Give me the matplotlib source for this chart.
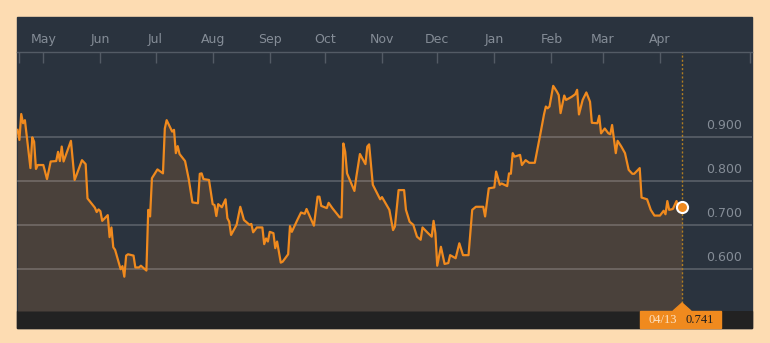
import pandas as pd
import matplotlib
matplotlib.use('Agg')
import matplotlib.pyplot as plt
import matplotlib.dates as mdates
import matplotlib.transforms as mtransforms
from matplotlib.patches import Rectangle, Polygon

START = pd.Timestamp('2018-05-01')

day_offset = [
    -14, -13, -12, -11, -10, -7, -6, -5, -4, -3, 0, 2, 4, 7, 8, 9, 10, 11, 15, 17,
    18, 21, 23, 24, 28, 29, 30, 31, 32, 35, 36, 37, 38, 39, 42, 43, 44, 45, 46, 49,
    50, 52, 53, 56, 57, 58, 59, 62, 65, 66, 67, 70, 71, 72, 73, 74, 77, 79, 81, 84,
    85, 86, 87, 90, 92, 93, 94, 95, 97, 99, 100, 101, 102, 105, 107, 109, 112, 113, 114, 116,
    119, 120, 121, 122, 123, 125, 126, 127, 129, 130, 133, 134, 135, 138, 140, 142, 143, 147, 149, 150,
    151, 154, 155, 157, 161, 162, 163, 164, 165, 169, 170, 172, 175, 176, 177, 179, 183, 184, 188, 190,
    191, 193, 196, 197, 199, 201, 203, 205, 206, 209, 211, 212, 213, 214, 216, 218, 220, 221, 224, 226,
    228, 231, 233, 235, 239, 240, 242, 245, 246, 248, 249, 252, 253, 254, 255, 256, 259, 260, 262, 264,
    267, 270, 272, 273, 274, 275, 277, 279, 280, 281, 283, 284, 287, 289, 290, 291, 293, 295, 297, 298,
    301, 302, 303, 305, 307, 308, 309, 311, 312, 314, 316, 318, 320, 321, 324, 325, 328, 330, 332, 335,
    337, 338, 339, 340, 342, 344, 345, 347,
]
price = [
    0.917, 0.894, 0.953, 0.932, 0.939, 0.830, 0.900, 0.890, 0.828, 0.837, 0.837, 0.805, 0.845, 0.846, 0.867, 0.846, 0.879, 0.845, 0.892, 0.803,
    0.814, 0.848, 0.839, 0.761, 0.740, 0.730, 0.736, 0.732, 0.710, 0.723, 0.673, 0.695, 0.650, 0.644, 0.600, 0.607, 0.583, 0.631, 0.634, 0.631,
    0.604, 0.604, 0.608, 0.597, 0.735, 0.720, 0.807, 0.827, 0.818, 0.920, 0.939, 0.913, 0.917, 0.864, 0.880, 0.862, 0.846, 0.805, 0.752, 0.750,
    0.817, 0.818, 0.805, 0.803, 0.748, 0.746, 0.721, 0.748, 0.741, 0.759, 0.716, 0.708, 0.678, 0.701, 0.742, 0.712, 0.701, 0.703, 0.684, 0.695,
    0.695, 0.657, 0.670, 0.663, 0.685, 0.682, 0.648, 0.663, 0.615, 0.617, 0.634, 0.698, 0.685, 0.712, 0.729, 0.726, 0.737, 0.699, 0.765, 0.765,
    0.744, 0.739, 0.751, 0.739, 0.718, 0.718, 0.886, 0.867, 0.818, 0.778, 0.809, 0.862, 0.839, 0.879, 0.884, 0.792, 0.759, 0.764, 0.735, 0.689,
    0.697, 0.780, 0.780, 0.735, 0.708, 0.701, 0.674, 0.667, 0.695, 0.682, 0.674, 0.710, 0.682, 0.608, 0.651, 0.612, 0.614, 0.632, 0.625, 0.659,
    0.632, 0.632, 0.735, 0.742, 0.742, 0.720, 0.784, 0.786, 0.822, 0.792, 0.795, 0.789, 0.818, 0.817, 0.864, 0.856, 0.860, 0.837, 0.848, 0.842,
    0.842, 0.907, 0.952, 0.970, 0.966, 0.970, 1.017, 1.004, 0.996, 0.955, 0.995, 0.985, 0.992, 0.998, 1.008, 0.952, 0.985, 1.002, 0.981, 0.933,
    0.932, 0.949, 0.909, 0.920, 0.909, 0.907, 0.928, 0.864, 0.892, 0.879, 0.864, 0.826, 0.817, 0.817, 0.830, 0.763, 0.759, 0.735, 0.722, 0.722,
    0.733, 0.725, 0.755, 0.735, 0.737, 0.755, 0.739, 0.741,
]

y_ticks = [0.6, 0.7, 0.8, 0.9]
month_ticks = pd.date_range('2018-05-01', '2019-04-01', freq='MS')
last_date_text = '04/13'
last_value_text = '0.741'

BG = '#fddcb2'
NAVY = '#2a333e'
BAND = '#222222'
FILL = '#4a413b'
ORANGE = '#f08a1e'
TXT = '#858d97'
AXIS = '#535b65'

W, H = 770, 343
dates = START + pd.to_timedelta(day_offset, unit='D')

fig = plt.figure(figsize=(W / 100, H / 100), dpi=100)
fig.patch.set_facecolor(BG)

# panel oscuro y banda inferior
fig.add_artist(Rectangle((17 / W, 1 - 328 / H), 735 / W, 311 / H,
                         transform=fig.transFigure, color=NAVY, zorder=0))
fig.add_artist(Rectangle((17 / W, 1 - 328 / H), 735 / W, 17 / H,
                         transform=fig.transFigure, color=BAND, zorder=0))

ax = fig.add_axes([17 / W, 1 - 311 / H, 735 / W, 259 / H])
ax.set_facecolor(NAVY)
y_lo, y_hi = 0.505, 1.094
x_lo = START - pd.Timedelta(days=14.3)
x_hi = START + pd.Timedelta(days=385)
ax.set_ylim(y_lo, y_hi)
ax.set_xlim(x_lo, x_hi)

ax.fill_between(dates, price, y_lo, color=FILL, lw=0, zorder=1)
ax.plot(dates, price, color=ORANGE, lw=1.6, zorder=3)

blend = mtransforms.blended_transform_factory(ax.transAxes, ax.transData)
for v in y_ticks:
    ax.axhline(v, color='white', alpha=0.22, lw=1.2, zorder=2)
    ax.text(0.986, v + 0.027, f'{v:.3f}', transform=blend, ha='right',
            va='center', fontsize=9, color=TXT)

ax.set_xticks(month_ticks)
ax.set_xticklabels([d.strftime('%b') for d in month_ticks])
# marcas en los bordes del panel
ax.set_xticks([x_lo + pd.Timedelta(days=1), x_hi - pd.Timedelta(days=1)], minor=True)
ax.xaxis.tick_top()
ax.tick_params(axis='x', which='both', direction='in', length=8, width=1,
               color=AXIS, labelcolor=TXT, labelsize=9, pad=4.5)
ax.set_yticks([])
for side in ['left', 'right', 'bottom']:
    ax.spines[side].set_visible(False)
ax.spines['top'].set_color(AXIS)
ax.spines['top'].set_linewidth(1)

# ultimo punto
ax.axvline(dates[-1], ymin=8 / 259, ymax=1, color='#b07e22', lw=1,
           ls=(0, (1.5, 1.5)), zorder=2)
ax.plot(dates[-1], price[-1], 'o', ms=8, mfc=ORANGE, mec='white', mew=1.5,
        zorder=5, clip_on=False)

xd = ax.transData.transform((mdates.date2num(dates[-1]), price[-1]))[0]
fig.add_artist(Rectangle(((xd - 42) / W, 1 - 328 / H), 81 / W, 17 / H,
                         transform=fig.transFigure, color=ORANGE, zorder=4))
fig.add_artist(Polygon([(xd / W, 1 - 303 / H), ((xd - 9) / W, 1 - 311 / H),
                        ((xd + 9) / W, 1 - 311 / H)], closed=True,
                       transform=fig.transFigure, color=ORANGE, zorder=4))
fig.text((xd - 19) / W, 1 - 320 / H, last_date_text, ha='center', va='center',
         fontsize=9, family='Liberation Serif', color='#fde3c4', zorder=5)
fig.text((xd + 18) / W, 1 - 320 / H, last_value_text, ha='center', va='center',
         fontsize=9, family='Liberation Serif', color='#1e1e1e', zorder=5)

fig.savefig('out.png', dpi=100, facecolor=BG)
